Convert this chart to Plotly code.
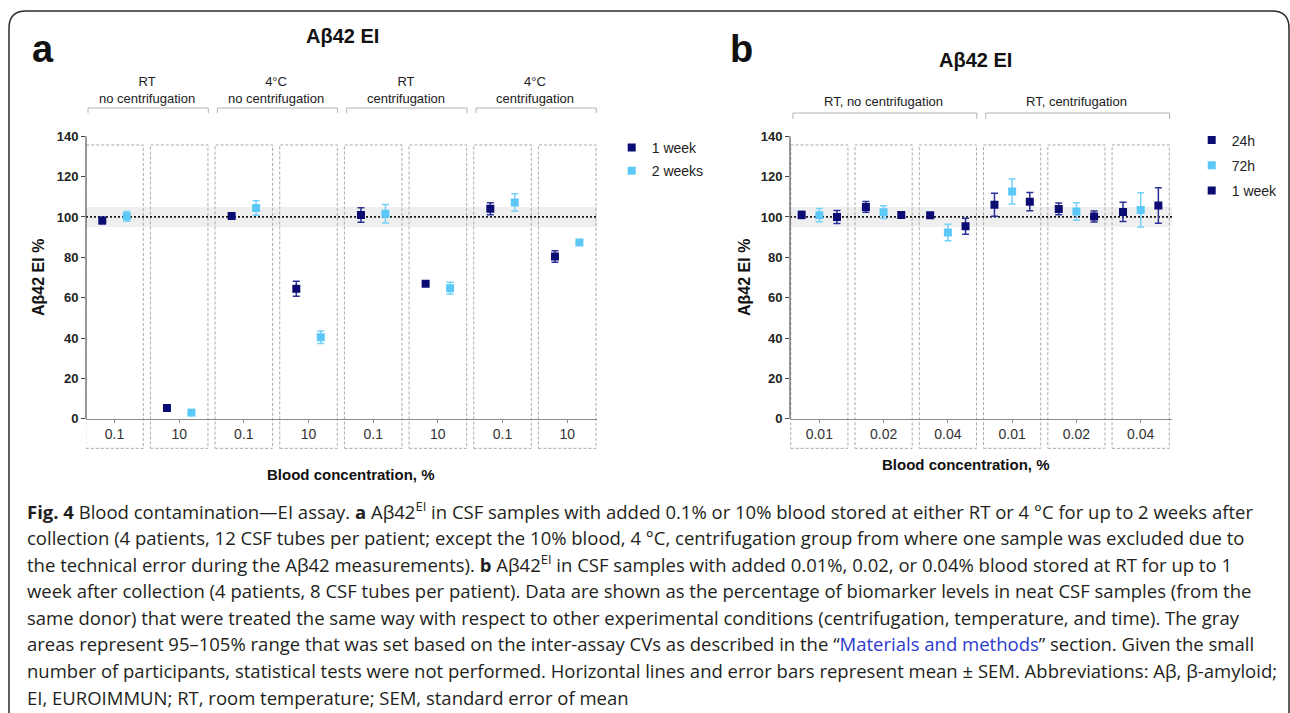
import plotly.graph_objects as go

W, H = 1290, 713

# ---------------- data ----------------
a_cats = ["0.1", "10", "0.1", "10", "0.1", "10", "0.1", "10"]
a_groups = ["RT<br>no centrifugation", "4°C<br>no centrifugation",
            "RT<br>centrifugation", "4°C<br>centrifugation"]
a_week1 = [98.2, 5.3, 100.5, 64.4, 101.0, 66.9, 104.1, 80.4]
a_week1_err = [1.6, 0.0, 1.0, 3.7, 3.6, 1.0, 3.0, 2.9]
a_week2 = [100.3, 3.0, 104.4, 40.4, 101.6, 64.7, 107.2, 87.4]
a_week2_err = [2.4, 0.0, 3.6, 3.1, 4.6, 2.9, 4.3, 0.0]

b_cats = ["0.01", "0.02", "0.04", "0.01", "0.02", "0.04"]
b_groups = ["RT, no centrifugation", "RT, centrifugation"]
b_24h = [101.0, 105.0, 100.9, 106.0, 104.0, 102.5]
b_24h_err = [1.8, 2.7, 0.8, 5.7, 2.9, 4.8]
b_72h = [100.9, 102.4, 92.3, 112.6, 102.7, 103.5]
b_72h_err = [3.3, 3.2, 4.1, 6.2, 4.3, 8.5]
b_1w = [100.0, 101.0, 95.4, 107.6, 100.2, 105.7]
b_1w_err = [3.2, 0.8, 4.0, 4.5, 2.7, 8.8]

y_ticks = [0, 20, 40, 60, 80, 100, 120, 140]

caption_lines = [
    "<b>Fig. 4</b> Blood contamination—EI assay. <b>a</b> Aβ42<sup>EI</sup> in CSF samples with added 0.1% or 10% blood stored at either RT or 4 °C for up to 2 weeks after",
    "collection (4 patients, 12 CSF tubes per patient; except the 10% blood, 4 °C, centrifugation group from where one sample was excluded due to",
    "the technical error during the Aβ42 measurements). <b>b</b> Aβ42<sup>EI</sup> in CSF samples with added 0.01%, 0.02, or 0.04% blood stored at RT for up to 1",
    "week after collection (4 patients, 8 CSF tubes per patient). Data are shown as the percentage of biomarker levels in neat CSF samples (from the",
    "same donor) that were treated the same way with respect to other experimental conditions (centrifugation, temperature, and time). The gray",
    "areas represent 95–105% range that was set based on the inter-assay CVs as described in the “<span style='color:#2a3bd0'>Materials and methods</span>” section. Given the small",
    "number of participants, statistical tests were not performed. Horizontal lines and error bars represent mean ± SEM. Abbreviations: Aβ, β-amyloid;",
    "EI, EUROIMMUN; RT, room temperature; SEM, standard error of mean",
]

# ---------------- style ----------------
DARK = "#0b0b74"
DARK_ERR = "#2a3199"
LIGHT = "#5cc8f7"
LIGHT_ERR = "#74d2fa"
FONT = "Liberation Sans, Arial, sans-serif"
CAP_FONT = "Open Sans, Noto Sans, sans-serif"

# page placement compensation (vertical)
Y_OFF, Y_SCALE = 6.0, 0.9917


def px_x(x):
    return x / W


def px_y(y):
    return 1 - ((y - Y_OFF) / Y_SCALE) / H


Y_RANGE = [-15, 140.5]
ydom = [px_y(449.0), px_y(135.3)]
xdom_a = [86 / W, 597 / W]
xdom_b = [790 / W, 1172 / W]
xr_a = [-0.441, 7.461]
xr_b = [-0.456, 5.487]
y0pos = ydom[0] + (0 - Y_RANGE[0]) / (Y_RANGE[1] - Y_RANGE[0]) * (ydom[1] - ydom[0])

off_a = 0.189
off_b = 0.275
hw = 0.445

fig = go.Figure()


def add_series(xs, ys, errs, name, color, ecolor, xa, ya, legend, group):
    fig.add_trace(go.Scatter(
        x=xs, y=ys, mode="markers", name=name,
        marker=dict(symbol="square", size=8, color=color),
        error_y=dict(type="data", array=errs, visible=True, color=ecolor,
                     thickness=1.5, width=3.5),
        xaxis=xa, yaxis=ya, legend=legend, legendgroup=group,
        hoverinfo="skip",
    ))


ia = list(range(len(a_cats)))
ib = list(range(len(b_cats)))
add_series([i - off_a for i in ia], a_week1, a_week1_err, "1 week", DARK, DARK_ERR, "x", "y", "legend", "a1")
add_series([i + off_a for i in ia], a_week2, a_week2_err, "2 weeks", LIGHT, LIGHT_ERR, "x", "y", "legend", "a2")
add_series([i - off_b for i in ib], b_24h, b_24h_err, "24h", DARK, DARK_ERR, "x2", "y2", "legend2", "b1")
add_series([i for i in ib], b_72h, b_72h_err, "72h", LIGHT, LIGHT_ERR, "x2", "y2", "legend2", "b2")
add_series([i + off_b for i in ib], b_1w, b_1w_err, "1 week", DARK, DARK_ERR, "x2", "y2", "legend2", "b3")

shapes = []
annotations = []


def panel_decor(xref, yref, cats, xr, xdom, groups, group_size, bracket_top, bracket_leg, header_y):
    shapes.append(dict(type="rect", xref=xref, yref=yref, x0=xr[0], x1=xr[1], y0=95, y1=105,
                       fillcolor="#efefef", line=dict(width=0), layer="below"))
    for i in range(len(cats)):
        shapes.append(dict(type="rect", xref=xref, yref=yref, x0=i - hw, x1=i + hw,
                           y0=-14.7, y1=135.7, line=dict(color="#a9a9a9", width=1, dash="3px,2px"),
                           layer="below"))
    shapes.append(dict(type="line", xref=xref, yref=yref, x0=xr[0], x1=xr[1], y0=100, y1=100,
                       line=dict(color="#1a1a1a", width=1.7, dash="2px,2px"), layer="below"))
    shapes.append(dict(type="line", xref="paper", yref=yref, x0=xdom[0], x1=xdom[0], y0=0, y1=140,
                       line=dict(color="#555555", width=1.2)))
    for g, label in enumerate(groups):
        s = g * group_size
        e = s + group_size - 1
        x0, x1 = s - 0.41, e + 0.45
        shapes.append(dict(type="path", xref=xref, yref="paper",
                           path=f"M {x0},{px_y(bracket_leg)} L {x0},{px_y(bracket_top)} "
                                f"L {x1},{px_y(bracket_top)} L {x1},{px_y(bracket_leg)}",
                           line=dict(color="#b3b3b3", width=1)))
        annotations.append(dict(text=label, xref=xref, yref="paper", x=(s + e) / 2,
                                y=px_y(header_y), xanchor="center", yanchor="middle",
                                showarrow=False, font=dict(family=FONT, size=13, color="#222")))


panel_decor("x", "y", a_cats, xr_a, xdom_a, a_groups, 2, 108, 113, 90)
panel_decor("x2", "y2", b_cats, xr_b, xdom_b, b_groups, 3, 113, 119, 102)

r = 17
bx0, bx1, by0 = 9, 1289, 11
shapes.append(dict(type="path", xref="paper", yref="paper",
                   path=(f"M {px_x(bx0)},0 L {px_x(bx0)},{px_y(by0 + r)} "
                         f"Q {px_x(bx0)},{px_y(by0)} {px_x(bx0 + r)},{px_y(by0)} "
                         f"L {px_x(bx1 - r)},{px_y(by0)} "
                         f"Q {px_x(bx1)},{px_y(by0)} {px_x(bx1)},{px_y(by0 + r)} "
                         f"L {px_x(bx1)},0"),
                   line=dict(color="#2a2a2a", width=1.5)))


def ann(text, x, y, size, bold=False, xanchor="center", angle=0, family=FONT, color="#111"):
    annotations.append(dict(text=f"<b>{text}</b>" if bold else text, xref="paper", yref="paper",
                            x=px_x(x), y=px_y(y), xanchor=xanchor, yanchor="middle",
                            showarrow=False, textangle=angle,
                            font=dict(family=family, size=size, color=color)))


ann("a", 43, 49, 38, bold=True)
ann("b", 741, 49, 38, bold=True)
ann("Aβ42 EI", 342, 36, 20, bold=True)
ann("Aβ42 EI", 975, 60, 20, bold=True)
ann("Aβ42 EI %", 39, 278, 16, bold=True, angle=-90)
ann("Aβ42 EI %", 745, 278, 16, bold=True, angle=-90)
ann("Blood concentration, %", 351, 475, 15, bold=True)
ann("Blood concentration, %", 966, 465, 15, bold=True)

for k, line in enumerate(caption_lines):
    ann(line, 25, 510.7 + k * 26.65, 18.5, xanchor="left", family=CAP_FONT, color="#231f20")


def xaxis_cfg(dom, rng, cats):
    return dict(domain=dom, range=rng, anchor="free", position=y0pos, showline=True,
                linecolor="#8c8c8c", linewidth=1, ticks="outside", ticklen=3, tickcolor="#8c8c8c",
                tickvals=list(range(len(cats))), ticktext=cats, showgrid=False, zeroline=False,
                tickfont=dict(family=FONT, size=14, color="#333"), fixedrange=True)


def yaxis_cfg(anchor):
    return dict(domain=ydom, range=Y_RANGE, anchor=anchor, showline=False, ticks="outside",
                ticklen=4, tickcolor="#444", tickwidth=1, tickvals=y_ticks, showgrid=False,
                zeroline=False, tickfont=dict(family=FONT, size=13, color="#222", weight="bold"),
                fixedrange=True)


fig.update_layout(
    width=W, height=H,
    margin=dict(l=0, r=0, t=0, b=0),
    paper_bgcolor="white", plot_bgcolor="white",
    xaxis=xaxis_cfg(xdom_a, xr_a, a_cats),
    yaxis=yaxis_cfg("x"),
    xaxis2=xaxis_cfg(xdom_b, xr_b, b_cats),
    yaxis2=yaxis_cfg("x2"),
    shapes=shapes,
    annotations=annotations,
    legend=dict(x=px_x(611.7), y=px_y(132), xanchor="left", yanchor="top",
                font=dict(family=FONT, size=14, color="#222"), bgcolor="rgba(0,0,0,0)",
                traceorder="grouped", tracegroupgap=2),
    legend2=dict(x=px_x(1191.7), y=px_y(124.5), xanchor="left", yanchor="top",
                 font=dict(family=FONT, size=14, color="#222"), bgcolor="rgba(0,0,0,0)",
                 traceorder="grouped", tracegroupgap=4),
    showlegend=True,
)

fig.write_html(
    "out.html",
    config={"displayModeBar": False},
    post_script="document.body.style.margin='0';document.body.style.overflow='hidden';",
)
